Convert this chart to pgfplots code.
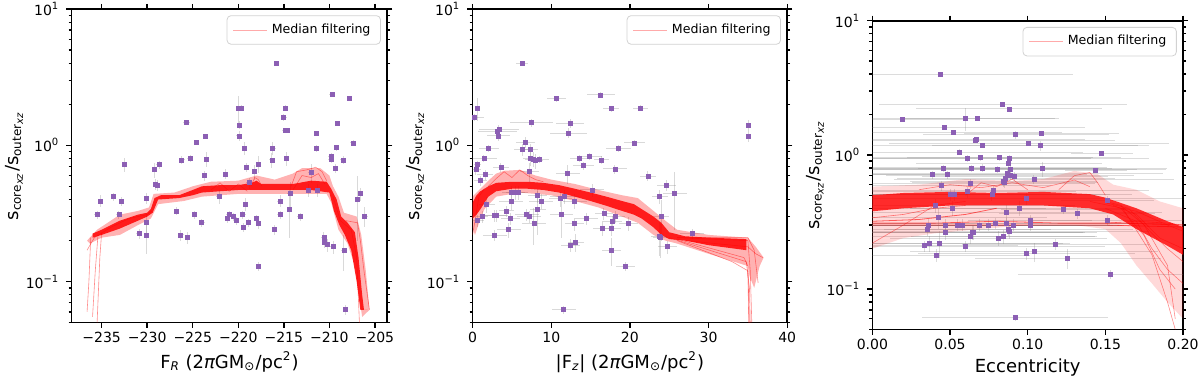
\documentclass[border=0pt]{standalone}
\usepackage{fontspec}
\setmainfont{DejaVu Sans}
\usepackage{pgfplots}
\pgfplotsset{compat=1.18}
\definecolor{ptpurple}{RGB}{140,95,180}
\definecolor{legred}{RGB}{255,170,170}

\pgfplotsset{
  every axis/.append style={
    scale only axis,
    tick align=outside,
    major tick length=2.6pt, minor tick length=1.5pt,
    axis line style={line width=0.8pt},
    tick style={black, line width=0.7pt},
    tick label style={font=\fontsize{7}{8}\selectfont},
    xticklabel style={yshift=1.2pt},
    label style={font=\fontsize{9}{10}\selectfont},
    xlabel style={yshift=2.5pt},
    ylabel shift=-5.5pt,
    legend style={at={(0.98,0.98)}, anchor=north east, draw=gray!35,
      rounded corners=2pt, font=\fontsize{6.3}{7}\selectfont},
    legend cell align=left,
    legend image code/.code={\draw[legred, line width=0.4pt] (0pt,0pt) -- (17pt,0pt);},
  },
}

\begin{document}
\begin{tikzpicture}
\useasboundingbox (0pt,0pt) rectangle (600pt,190pt);

% ---- panel 1: F_R
\begin{axis}[at={(35.8pt,28.7pt)}, anchor=south west, width=157.8pt, height=156.8pt,
  ymode=log, ymin=0.05, ymax=10,
  ytick={0.1,1,10},
  yticklabels={10\textsuperscript{−1},10\textsuperscript{0},10\textsuperscript{1}},
  minor ytick={0.05,0.06,0.07,0.08,0.09,0.2,0.3,0.4,0.5,0.6,0.7,0.8,0.9,2,3,4,5,6,7,8,9},
  ylabel={s\textsubscript{core\textsubscript{\itshape xz}}/s\textsubscript{outer\textsubscript{\itshape xz}}},
  xmin=-238.3, xmax=-203.65,
  xtick={-235,-230,-225,-220,-215,-210,-205},
  xticklabels={−235,−230,−225,−220,−215,−210,−205},
  xlabel={F\textsubscript{\itshape R} (2{\itshape π}GM\textsubscript{⊙}/pc\textsuperscript{2})}]
\addlegendimage{legred}
\addlegendentry{Median filtering}
\addplot[only marks, mark=square*, mark size=1pt, color=ptpurple, forget plot,
    error bars/.cd, x dir=both, x explicit, y dir=both, y explicit, error mark=none,
    error bar style={gray, opacity=0.3, line width=0.5pt}]
  table[x=x, y=y, x error=ex, y error=ey] {
x y ex ey
-215.8 4.00 0.3 0.1
-209.7 2.36 0.3 0.1
-207.8 2.20 0.3 0.1
-220.0 1.86 0.3 0.45
-219.7 1.88 0.3 0.1
-214.8 1.88 0.3 0.1
-215.0 1.61 0.3 0.1
-225.7 1.47 0.4 0.05
-214.8 1.29 0.4 0.05
-214.6 1.28 0.3 0.05
-209.1 1.45 0.3 0.05
-219.85 1.41 0.3 0.1
-219.9 1.17 0.3 0.1
-211.4 1.22 0.3 0.05
-223.6 1.17 0.3 0.05
-207.4 1.04 0.3 0.05
-224.6 1.05 0.3 0.05
-219.3 0.95 0.3 0.1
-216.2 0.95 0.3 0.1
-211.4 0.95 0.3 0.05
-209.2 0.96 0.3 0.05
-209.8 0.83 0.3 0.05
-209.8 0.79 0.3 0.05
-208.5 0.78 0.3 0.05
-214.7 0.80 0.3 0.1
-216.3 0.78 0.3 0.1
-223.5 0.79 0.3 0.1
-225.3 0.80 0.3 0.05
-226.2 0.78 0.3 0.05
-232.5 0.72 0.3 0.08
-228.7 0.72 0.3 0.05
-229.2 0.66 0.3 0.08
-217.8 0.73 0.3 0.1
-219.1 0.69 0.3 0.05
-209.3 0.68 0.3 0.05
-212.0 0.63 0.3 0.1
-218.2 0.64 0.3 0.08
-221.4 0.615 0.3 0.05
-223.7 0.60 0.3 0.05
-229.1 0.52 0.3 0.05
-228.9 0.51 0.3 0.05
-218.8 0.53 0.3 0.05
-222.1 0.42 0.3 0.05
-214.3 0.44 0.3 0.1
-212.3 0.47 0.3 0.05
-211.3 0.47 0.3 0.05
-235.1 0.39 0.3 0.04
-233.7 0.42 0.3 0.03
-232.8 0.39 0.3 0.03
-230.1 0.41 0.3 0.04
-215.4 0.39 0.3 0.04
-206.9 0.40 0.3 0.2
-206.6 0.44 0.3 0.05
-219.2 0.37 0.3 0.04
-214.4 0.34 0.3 0.13
-235.5 0.31 0.3 0.02
-233.1 0.31 0.3 0.02
-226.8 0.33 0.3 0.02
-224.8 0.31 0.3 0.02
-221.0 0.31 0.3 0.02
-220.5 0.30 0.3 0.02
-219.5 0.31 0.3 0.02
-221.2 0.29 0.3 0.02
-220.2 0.28 0.3 0.02
-215.4 0.31 0.3 0.02
-213.2 0.30 0.3 0.02
-206.1 0.30 0.3 0.05
-218.0 0.29 0.3 0.02
-230.1 0.27 0.3 0.05
-224.0 0.27 0.3 0.02
-218.9 0.27 0.3 0.02
-217.8 0.265 0.3 0.02
-219.4 0.25 0.3 0.02
-216.0 0.24 0.3 0.02
-230.9 0.225 0.3 0.02
-230.1 0.22 0.3 0.06
-226.3 0.22 0.3 0.02
-225.6 0.21 0.3 0.02
-210.6 0.21 0.3 0.02
-210.5 0.195 0.3 0.02
-210.2 0.186 0.3 0.02
-209.6 0.18 0.3 0.02
-208.4 0.17 0.3 0.05
-217.8 0.13 0.3 0.01
-208.2 0.062 0.3 0.005
};
\addplot[fill=red, fill opacity=0.3, draw=none, forget plot] coordinates {(-236.6,0.20) (-235.5,0.24) (-233,0.31) (-231,0.33) (-229.8,0.35) (-229.3,0.44) (-227,0.45) (-225,0.50) (-223,0.54) (-220,0.55) (-218,0.60) (-216,0.56) (-214,0.62) (-213,0.68) (-211,0.68) (-210,0.60) (-209.6,0.50) (-209,0.42) (-208.4,0.32) (-207,0.30) (-206.5,0.22) (-206,0.12) (-205.6,0.062) (-206.4,0.055) (-207.2,0.13) (-208,0.19) (-209,0.24) (-209.8,0.38) (-210.3,0.44) (-214,0.44) (-220,0.44) (-224,0.42) (-226,0.39) (-228.8,0.37) (-229.6,0.29) (-231,0.26) (-233,0.22) (-235,0.21) (-236.3,0.19)};
\addplot[fill=red, fill opacity=0.85, draw=none, forget plot] coordinates {(-236,0.225) (-235,0.24) (-233,0.28) (-231,0.31) (-230,0.32) (-229.6,0.34) (-229.2,0.41) (-228.5,0.43) (-226.5,0.43) (-225,0.47) (-224,0.50) (-222,0.51) (-220,0.51) (-218.5,0.53) (-218,0.55) (-217.5,0.52) (-214,0.52) (-212,0.55) (-210.3,0.54) (-209.8,0.48) (-209.2,0.40) (-208.7,0.30) (-208,0.27) (-207.2,0.23) (-206.8,0.15) (-206.4,0.08) (-206.2,0.062) (-205.8,0.062) (-206.6,0.062) (-207,0.10) (-207.6,0.17) (-208.3,0.22) (-208.9,0.26) (-209.5,0.33) (-210,0.45) (-212,0.47) (-216,0.47) (-220,0.47) (-222,0.46) (-224,0.45) (-225,0.43) (-226.5,0.41) (-228.8,0.40) (-229.4,0.32) (-230,0.30) (-231,0.28) (-233,0.245) (-235,0.22) (-236,0.21)};
\addplot[red, draw opacity=0.45, line width=0.3pt, forget plot] coordinates {(-236.6,0.17) (-235.8,0.21) (-234,0.25) (-232,0.29) (-230,0.31) (-229.5,0.33)};
\addplot[red, draw opacity=0.45, line width=0.3pt, forget plot] coordinates {(-235.4,0.22) (-235.7,0.12) (-236,0.055)};
\addplot[red, draw opacity=0.45, line width=0.3pt, forget plot] coordinates {(-235,0.23) (-235.2,0.15) (-235.5,0.05)};
\addplot[red, draw opacity=0.45, line width=0.3pt, forget plot] coordinates {(-236.2,0.21) (-236.4,0.1) (-236.6,0.06)};
\addplot[red, draw opacity=0.45, line width=0.3pt, forget plot] coordinates {(-214.2,0.50) (-213.6,0.64) (-212.5,0.66) (-211.5,0.69) (-210.8,0.64) (-210.3,0.55)};
\addplot[red, draw opacity=0.45, line width=0.3pt, forget plot] coordinates {(-214,0.47) (-213,0.60) (-212,0.58) (-211.2,0.62) (-210.5,0.52)};
\addplot[red, draw opacity=0.45, line width=0.3pt, forget plot] coordinates {(-218.6,0.50) (-218.2,0.58) (-217.8,0.56) (-217.4,0.50)};
\addplot[red, draw opacity=0.45, line width=0.3pt, forget plot] coordinates {(-208.2,0.28) (-206.9,0.27) (-206.6,0.20) (-206.2,0.12) (-205.6,0.062)};
\addplot[red, draw opacity=0.45, line width=0.3pt, forget plot] coordinates {(-209.6,0.42) (-208.8,0.28) (-207.6,0.24) (-207,0.15) (-206.7,0.05)};
\addplot[red, draw opacity=0.45, line width=0.3pt, forget plot] coordinates {(-223,0.47) (-222,0.53) (-221,0.46) (-220,0.52) (-219,0.46)};
\end{axis}

% ---- panel 2: |F_z|
\begin{axis}[at={(236.3pt,28.7pt)}, anchor=south west, width=157.3pt, height=156.8pt,
  ymode=log, ymin=0.05, ymax=10,
  ytick={0.1,1,10},
  yticklabels={10\textsuperscript{−1},10\textsuperscript{0},10\textsuperscript{1}},
  minor ytick={0.05,0.06,0.07,0.08,0.09,0.2,0.3,0.4,0.5,0.6,0.7,0.8,0.9,2,3,4,5,6,7,8,9},
  ylabel={s\textsubscript{core\textsubscript{\itshape xz}}/s\textsubscript{outer\textsubscript{\itshape xz}}},
  xmin=0, xmax=40, xtick={0,10,20,30,40},
  xticklabels={0,10,20,30,40},
  xlabel={|F\textsubscript{\itshape z}| (2{\itshape π}GM\textsubscript{⊙}/pc\textsuperscript{2})}]
\addlegendimage{legred}
\addlegendentry{Median filtering}
\addplot[only marks, mark=square*, mark size=1pt, color=ptpurple, forget plot,
    error bars/.cd, x dir=both, x explicit, y dir=both, y explicit, error mark=none,
    error bar style={gray, opacity=0.3, line width=0.5pt}]
  table[x=x, y=y, x error=ex, y error=ey] {
x y ex ey
6.3 4.00 0.75 0.1
16.3 2.34 1.8 0.1
10.7 2.19 1.2 0.1
17.6 1.85 1.05 0.1
21.3 1.87 0.95 0.1
0.6 1.87 0.3 0.35
0.25 1.60 1.2 0.1
35.1 1.41 0.2 0.12
35.1 1.17 0.2 0.12
7.5 1.46 2.75 0.1
12.4 1.45 1.8 0.1
3.35 1.30 2.5 0.1
3.2 1.26 2.5 0.1
3.3 1.17 1.5 0.1
12.2 1.23 2.3 0.1
6.7 1.05 1.2 0.1
20.6 1.04 1.3 0.05
2.07 0.95 1.3 0.05
6.3 0.93 1.0 0.1
7.3 0.93 1.0 0.1
18.6 0.95 1.6 0.05
1.44 0.80 1.7 0.05
7.4 0.80 1.0 0.1
7.7 0.79 1.0 0.1
8.0 0.77 1.0 0.1
8.55 0.79 1.2 0.05
13.55 0.80 1.2 0.05
14.9 0.83 1.6 0.05
16.4 0.78 1.0 0.05
0.63 0.72 0.5 0.05
3.6 0.69 1.0 0.05
14.1 0.71 1.3 0.05
18.1 0.67 1.5 0.05
0.42 0.66 0.6 0.05
7.2 0.64 1.2 0.1
12.1 0.62 1.5 0.1
22.3 0.595 1.0 0.05
1.6 0.61 1.0 0.05
0.97 0.55 0.8 0.05
24.6 0.51 1.2 0.05
15.2 0.47 1.5 0.05
4.9 0.45 1.2 0.05
5.4 0.45 1.2 0.05
5.8 0.45 1.2 0.05
25.7 0.44 1.5 0.2
23.8 0.42 1.0 0.05
8.2 0.43 1.2 0.05
11.7 0.42 1.8 0.05
11.2 0.405 1.5 0.05
1.8 0.37 1.0 0.05
4.9 0.385 1.5 0.05
8.7 0.39 1.5 0.05
13.0 0.39 1.5 0.05
8.3 0.34 1.0 0.12
4.3 0.33 1.0 0.03
6.9 0.31 1.5 0.03
7.2 0.30 1.5 0.03
3.05 0.305 1.5 0.03
2.8 0.305 1.5 0.03
11.3 0.31 1.5 0.1
16.7 0.315 1.2 0.03
18.2 0.30 1.2 0.03
24.0 0.30 1.0 0.1
0.6 0.28 0.8 0.03
1.2 0.30 0.8 0.03
4.83 0.29 1.2 0.03
14.5 0.29 1.5 0.03
17.8 0.275 1.2 0.03
19.8 0.267 1.2 0.03
7.8 0.265 1.5 0.08
12.9 0.265 1.2 0.03
16.5 0.247 1.2 0.03
17.7 0.247 1.2 0.03
4.6 0.24 1.5 0.03
23.7 0.215 1.0 0.06
23.9 0.21 1.0 0.06
2.83 0.218 1.5 0.02
12.4 0.185 1.2 0.02
13.1 0.194 1.0 0.03
24.8 0.18 1.2 0.02
27.9 0.225 1.5 0.02
17.7 0.17 1.2 0.04
19.4 0.129 1.2 0.01
11.6 0.062 1.5 0.004
};
\addplot[fill=red, fill opacity=0.3, draw=none, forget plot] coordinates {(0,0.42) (1,0.48) (2,0.55) (3,0.62) (4,0.65) (6,0.66) (8,0.60) (10,0.56) (13,0.52) (16,0.47) (19,0.43) (21,0.41) (23,0.33) (24.5,0.28) (26,0.24) (30,0.22) (35,0.21) (36,0.18) (37,0.15) (36.5,0.13) (35.8,0.09) (35.2,0.11) (35,0.13) (30,0.16) (26,0.19) (24.5,0.20) (23,0.22) (21,0.27) (19,0.30) (16,0.35) (13,0.39) (10,0.43) (6,0.45) (3,0.42) (1.5,0.34) (1,0.29) (0.3,0.22) (0,0.25)};
\addplot[fill=red, fill opacity=0.85, draw=none, forget plot] coordinates {(0,0.38) (0.5,0.43) (1,0.46) (2,0.50) (3,0.53) (5,0.54) (7,0.54) (9,0.53) (11,0.51) (13,0.48) (15,0.45) (17,0.42) (19,0.39) (20.5,0.37) (21.5,0.34) (23,0.30) (24,0.27) (25,0.23) (27,0.215) (30,0.21) (34.8,0.205) (34.8,0.17) (30,0.185) (27,0.20) (25,0.205) (24,0.22) (23,0.25) (21.5,0.29) (20.5,0.31) (19,0.33) (17,0.36) (15,0.39) (13,0.42) (11,0.45) (9,0.47) (7,0.48) (5,0.48) (3,0.46) (2,0.42) (1,0.34) (0.5,0.31) (0,0.29)};
\addplot[red, draw opacity=0.45, line width=0.3pt, forget plot] coordinates {(26,0.21) (35,0.20) (35.3,0.12) (35.5,0.05)};
\addplot[red, draw opacity=0.45, line width=0.3pt, forget plot] coordinates {(26,0.205) (34.5,0.15) (35,0.13) (35.1,0.05)};
\addplot[red, draw opacity=0.45, line width=0.3pt, forget plot] coordinates {(25,0.21) (34.8,0.14) (35.2,0.09) (35.3,0.05)};
\addplot[red, draw opacity=0.45, line width=0.3pt, forget plot] coordinates {(27,0.2) (35,0.18) (36,0.16) (36.9,0.15)};
\addplot[red, draw opacity=0.45, line width=0.3pt, forget plot] coordinates {(26,0.21) (35,0.21) (35.8,0.17) (36.3,0.098)};
\addplot[red, draw opacity=0.45, line width=0.3pt, forget plot] coordinates {(2,0.5) (3,0.57) (4,0.64) (5,0.58) (6,0.66) (7,0.6) (8,0.56) (9,0.54)};
\addplot[red, draw opacity=0.45, line width=0.3pt, forget plot] coordinates {(0,0.22) (0.4,0.3) (0.8,0.42) (1.5,0.48)};
\addplot[red, draw opacity=0.45, line width=0.3pt, forget plot] coordinates {(26,0.2) (33,0.14) (35,0.12) (35.2,0.05)};
\end{axis}

% ---- panel 3: eccentricity
\begin{axis}[at={(436.2pt,25.3pt)}, anchor=south west, width=155.3pt, height=154.3pt,
  ymode=log, ymin=0.05, ymax=10,
  ytick={0.1,1,10},
  yticklabels={10\textsuperscript{−1},10\textsuperscript{0},10\textsuperscript{1}},
  minor ytick={0.05,0.06,0.07,0.08,0.09,0.2,0.3,0.4,0.5,0.6,0.7,0.8,0.9,2,3,4,5,6,7,8,9},
  ylabel={s\textsubscript{core\textsubscript{\itshape xz}}/s\textsubscript{outer\textsubscript{\itshape xz}}},
  xmin=0, xmax=0.2, xtick={0,0.05,0.1,0.15,0.2},
  xticklabels={0.00,0.05,0.10,0.15,0.20},
  xlabel={Eccentricity}]
\addlegendimage{legred}
\addlegendentry{Median filtering}
\addplot[only marks, mark=square*, mark size=1pt, color=ptpurple, forget plot,
    error bars/.cd, x dir=both, x explicit, y dir=both, y explicit, error mark=none,
    error bar style={gray, opacity=0.28, line width=0.5pt}]
  table[x=x, y=y, x error=ex, y error=ey] {
x y ex ey
0.044 4.00 0.085 0.05
0.084 2.36 0.08 0.05
0.088 2.20 0.06 0.05
0.0196 1.85 0.04 0.05
0.060 1.87 0.06 0.35
0.0676 1.87 0.05 0.05
0.0466 1.60 0.09 0.05
0.0524 1.46 0.07 0.05
0.0923 1.41 0.06 0.1
0.1088 1.44 0.05 0.05
0.066 1.28 0.09 0.05
0.067 1.30 0.07 0.05
0.1007 1.22 0.09 0.05
0.071 1.17 0.1 0.05
0.1084 1.17 0.07 0.1
0.0558 1.05 0.08 0.05
0.1477 1.03 0.02 0.03
0.061 0.94 0.08 0.05
0.0698 0.95 0.09 0.05
0.082 0.95 0.06 0.05
0.088 0.94 0.09 0.05
0.0878 0.865 0.06 0.05
0.0384 0.71 0.05 0.05
0.046 0.79 0.1 0.05
0.064 0.79 0.09 0.05
0.071 0.80 0.08 0.05
0.0805 0.78 0.09 0.05
0.0889 0.78 0.1 0.05
0.1095 0.79 0.08 0.1
0.1438 0.77 0.02 0.03
0.0483 0.71 0.09 0.05
0.087 0.73 0.1 0.05
0.0887 0.70 0.08 0.05
0.0859 0.67 0.07 0.05
0.0917 0.69 0.06 0.05
0.104 0.656 0.09 0.05
0.0447 0.59 0.07 0.05
0.0844 0.63 0.06 0.05
0.0852 0.62 0.06 0.05
0.078 0.54 0.1 0.05
0.0502 0.506 0.08 0.05
0.0528 0.506 0.1 0.05
0.077 0.506 0.09 0.05
0.0634 0.61 0.08 0.05
0.0614 0.53 0.07 0.05
0.0994 0.47 0.1 0.05
0.1516 0.46 0.03 0.03
0.0406 0.42 0.09 0.05
0.0518 0.40 0.06 0.05
0.0945 0.40 0.07 0.05
0.123 0.39 0.04 0.03
0.1318 0.365 0.05 0.03
0.0865 0.37 0.1 0.05
0.1511 0.325 0.05 0.03
0.0425 0.34 0.07 0.06
0.1017 0.325 0.04 0.03
0.1017 0.30 0.06 0.03
0.0359 0.30 0.1 0.03
0.047 0.30 0.09 0.03
0.055 0.30 0.08 0.03
0.058 0.30 0.1 0.03
0.069 0.30 0.09 0.03
0.075 0.30 0.08 0.03
0.079 0.31 0.09 0.03
0.0865 0.31 0.1 0.03
0.0906 0.30 0.07 0.03
0.0352 0.28 0.08 0.03
0.0472 0.264 0.09 0.03
0.0644 0.264 0.08 0.03
0.0653 0.264 0.07 0.03
0.0876 0.277 0.08 0.03
0.088 0.267 0.09 0.03
0.0631 0.247 0.08 0.03
0.0811 0.24 0.07 0.03
0.0846 0.245 0.06 0.03
0.037 0.22 0.09 0.03
0.043 0.219 0.08 0.05
0.0335 0.21 0.06 0.02
0.0599 0.209 0.09 0.02
0.1178 0.216 0.06 0.02
0.1041 0.19 0.08 0.03
0.0994 0.184 0.07 0.02
0.0412 0.178 0.06 0.02
0.1258 0.17 0.06 0.03
0.1535 0.129 0.06 0.01
0.0919 0.061 0.06 0.003
};
\addplot[fill=red, fill opacity=0.15, draw=none, forget plot] coordinates {(0,0.58) (0.03,0.60) (0.06,0.66) (0.09,0.64) (0.11,0.66) (0.13,0.76) (0.145,0.72) (0.155,0.60) (0.17,0.55) (0.185,0.45) (0.20,0.40) (0.20,0.06) (0.19,0.08) (0.18,0.11) (0.17,0.15) (0.16,0.22) (0.15,0.28) (0.13,0.30) (0.10,0.30) (0.07,0.28) (0.04,0.26) (0.02,0.24) (0,0.20)};
\addplot[fill=red, fill opacity=0.8, draw=none, forget plot] coordinates {(0,0.50) (0.02,0.52) (0.05,0.53) (0.08,0.52) (0.11,0.53) (0.14,0.51) (0.15,0.48) (0.17,0.40) (0.19,0.32) (0.20,0.29) (0.20,0.18) (0.19,0.21) (0.17,0.28) (0.155,0.36) (0.14,0.40) (0.11,0.42) (0.08,0.42) (0.05,0.42) (0.02,0.40) (0,0.38)};
\addplot[red, draw opacity=0.6, line width=0.4pt, forget plot] coordinates {(0,0.31) (0.04,0.31) (0.08,0.32) (0.12,0.31) (0.16,0.31) (0.2,0.30)};
\addplot[red, draw opacity=0.6, line width=0.4pt, forget plot] coordinates {(0,0.30) (0.05,0.30) (0.1,0.30) (0.15,0.30) (0.2,0.29)};
\addplot[red, draw opacity=0.6, line width=0.4pt, forget plot] coordinates {(0,0.32) (0.03,0.33) (0.06,0.36) (0.08,0.40)};
\addplot[red, draw opacity=0.5, line width=0.3pt, forget plot] coordinates {(0,0.34) (0.02,0.36) (0.04,0.40) (0.06,0.42)};
\addplot[red, draw opacity=0.5, line width=0.3pt, forget plot] coordinates {(0.15,0.31) (0.17,0.32) (0.19,0.31) (0.2,0.30)};
\addplot[red, draw opacity=0.45, line width=0.3pt, forget plot] coordinates {(0.12,0.55) (0.13,0.70) (0.14,0.74) (0.145,0.62) (0.15,0.50)};
\addplot[red, draw opacity=0.45, line width=0.3pt, forget plot] coordinates {(0.15,0.45) (0.16,0.42) (0.175,0.30) (0.19,0.15) (0.195,0.06)};
\addplot[red, draw opacity=0.45, line width=0.3pt, forget plot] coordinates {(0.15,0.40) (0.17,0.32) (0.18,0.20) (0.19,0.14) (0.2,0.11)};
\addplot[red, draw opacity=0.45, line width=0.3pt, forget plot] coordinates {(0.14,0.45) (0.17,0.38) (0.19,0.30) (0.2,0.27)};
\addplot[red, draw opacity=0.45, line width=0.3pt, forget plot] coordinates {(0.16,0.42) (0.18,0.18) (0.19,0.08) (0.195,0.05)};
\addplot[red, draw opacity=0.45, line width=0.3pt, forget plot] coordinates {(0.15,0.44) (0.165,0.40) (0.18,0.26) (0.19,0.2) (0.2,0.16)};
\addplot[red, draw opacity=0.45, line width=0.3pt, forget plot] coordinates {(0.155,0.42) (0.17,0.36) (0.185,0.24) (0.2,0.2)};
\addplot[red, draw opacity=0.45, line width=0.3pt, forget plot] coordinates {(0.16,0.40) (0.175,0.25) (0.185,0.14) (0.195,0.1)};
\addplot[red, draw opacity=0.45, line width=0.3pt, forget plot] coordinates {(0.06,0.50) (0.07,0.62) (0.08,0.58) (0.09,0.66) (0.1,0.55)};
\addplot[red, draw opacity=0.45, line width=0.3pt, forget plot] coordinates {(0,0.22) (0.02,0.3) (0.04,0.42) (0.06,0.45)};
\addplot[red, draw opacity=0.45, line width=0.3pt, forget plot] coordinates {(0.03,0.55) (0.05,0.60) (0.07,0.57) (0.09,0.62) (0.11,0.57) (0.13,0.65) (0.14,0.58)};
\end{axis}
\end{tikzpicture}
\end{document}
